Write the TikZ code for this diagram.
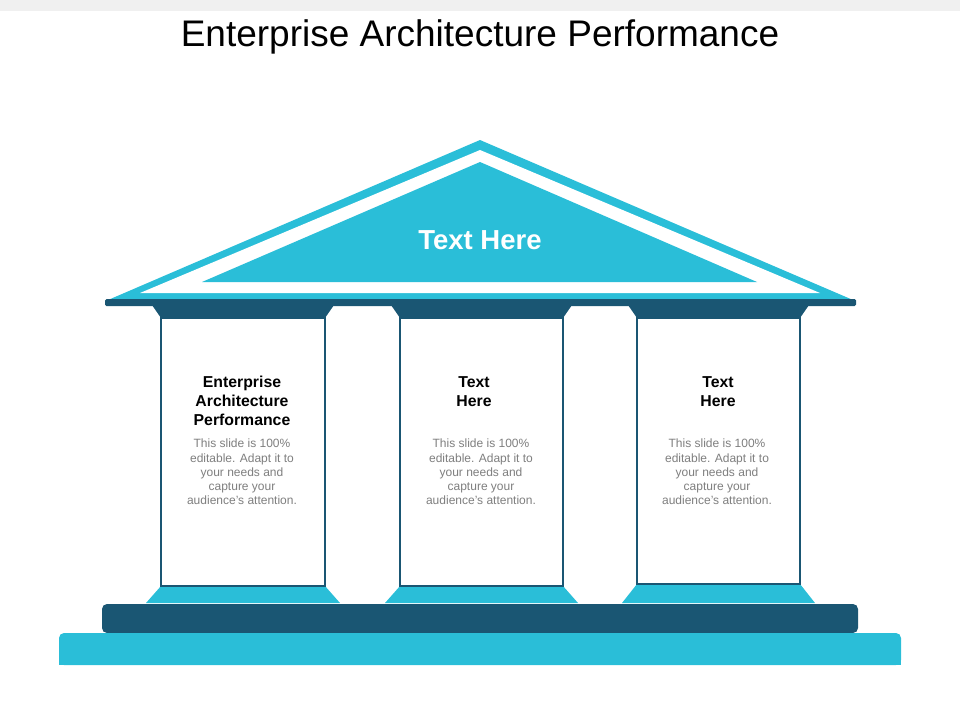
\documentclass[tikz,border=0pt]{standalone}
\usepackage{fontspec}
\setmainfont{Liberation Sans}
\definecolor{lb}{HTML}{2ABED8}
\definecolor{db}{HTML}{1A5673}
\definecolor{tx}{HTML}{7F7F7F}
\begin{document}
\begin{tikzpicture}[x=1pt,y=-1pt,
  colbox/.style={draw=db,line width=2pt,fill=white},
  head/.style={font=\fontsize{15.8}{19}\selectfont\bfseries,align=center,text=black},
  body/.style={font=\fontsize{12}{14.2}\selectfont,align=center,text=tx}]
\useasboundingbox (0,0) rectangle (960,720);
\fill[gray!12] (0,0) rectangle (960,11);
\node (title) at (480,37) {\fontsize{37}{42}\selectfont Enterprise Architecture Performance};
% roof
\fill[lb] (480,140) -- (108,300) -- (853,300) -- cycle;
\fill[white] (480,150) -- (140,293) -- (820,293) -- cycle;
\fill[lb] (480,162) -- (202,282) -- (757,282) -- cycle;
\node[text=white,font=\fontsize{27.5}{30}\selectfont\bfseries] (roof) at (480,240) {Text Here};
\fill[db,rounded corners=1.5pt] (105,299) rectangle (856,306);
% columns
\foreach \a/\b/\bot in {161/325/586,400/563/586,637/800/584}{
  \fill[db] (\a-9,305) -- (\b+9,305) -- (\b,318) -- (\a,318) -- cycle;
  \fill[lb] (\a,\bot) -- (\b,\bot) -- (\b+15,603) -- (\a-15,603) -- cycle;
  \draw[colbox] (\a,318) rectangle (\b,\bot);
}
\fill[db,rounded corners=5pt] (102,633) -- (102,604) -- (858,604) -- (858,633) -- cycle;
\fill[lb,rounded corners=5pt] (59,665) -- (59,633) -- (901,633) -- (901,665) -- cycle;
\fill[lb] (59,650) rectangle (901,665);
% texts
\node[head] (h1) at (242,401) {Enterprise\\Architecture\\Performance};
\node[head] (h2) at (474,392) {Text\\Here};
\node[head] (h3) at (718,392) {Text\\Here};
\foreach \x/\n in {242/b1,481/b2,717/b3}
  \node[body] (\n) at (\x,472) {This slide is 100\%\\editable. Adapt it to\\your needs and\\capture your\\audience's attention.};
\end{tikzpicture}
\end{document}
